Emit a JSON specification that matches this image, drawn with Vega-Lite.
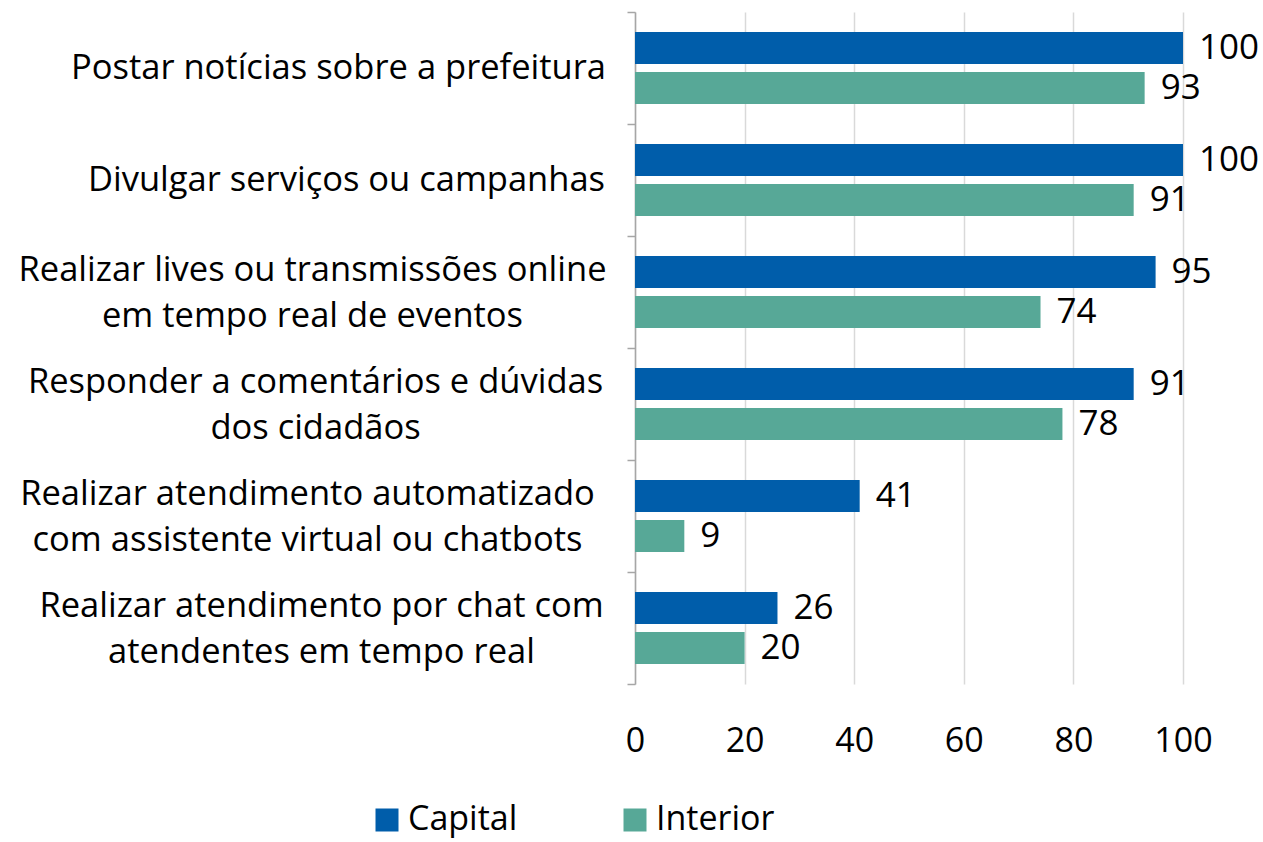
{
  "$schema": "https://vega.github.io/schema/vega-lite/v6.json",
  "autosize": "none",
  "width": 548,
  "height": 672,
  "padding": {"left": 635, "top": 12, "right": 80, "bottom": 158},
  "background": "white",
  "config": {
    "view": {"stroke": null},
    "font": "Open Sans",
    "text": {"font": "Open Sans"}
  },
  "data": {
    "values": [
      {"task": "Postar notícias sobre a prefeitura", "group": "Capital", "value": 100},
      {"task": "Postar notícias sobre a prefeitura", "group": "Interior", "value": 93},
      {"task": "Divulgar serviços ou campanhas", "group": "Capital", "value": 100},
      {"task": "Divulgar serviços ou campanhas", "group": "Interior", "value": 91},
      {"task": "Realizar lives ou transmissões online\nem tempo real de eventos", "group": "Capital", "value": 95},
      {"task": "Realizar lives ou transmissões online\nem tempo real de eventos", "group": "Interior", "value": 74},
      {"task": "Responder a comentários e dúvidas\ndos cidadãos", "group": "Capital", "value": 91},
      {"task": "Responder a comentários e dúvidas\ndos cidadãos", "group": "Interior", "value": 78},
      {"task": "Realizar atendimento automatizado\ncom assistente virtual ou chatbots", "group": "Capital", "value": 41},
      {"task": "Realizar atendimento automatizado\ncom assistente virtual ou chatbots", "group": "Interior", "value": 9},
      {"task": "Realizar atendimento por chat com\natendentes em tempo real", "group": "Capital", "value": 26},
      {"task": "Realizar atendimento por chat com\natendentes em tempo real", "group": "Interior", "value": 20}
    ]
  },
  "encoding": {
    "y": {
      "field": "task",
      "type": "nominal",
      "sort": null,
      "scale": {"paddingInner": 0, "paddingOuter": 0},
      "axis": {
        "title": null,
        "domainColor": "#a6a6a6",
        "domainWidth": 1.5,
        "tickColor": "#a6a6a6",
        "tickWidth": 1.5,
        "tickSize": 8,
        "tickBand": "extent",
        "labelFont": "Open Sans",
        "labelFontSize": 34.5,
        "labelColor": "#000000",
        "labelAlign": "center",
        "labelBaseline": "middle",
        "labelLimit": 700,
        "labelLineHeight": 46,
        "labelExpr": "split(datum.label, '\\n')",
        "labelPadding": {"expr": "[289,281,315,312,320,306][round(datum.index*5)]"},
        "labelOffset": {"expr": "[0,0,-22,-22,-22,-22][round(datum.index*5)]"}
      }
    },
    "yOffset": {
      "field": "group",
      "type": "nominal",
      "sort": ["Capital", "Interior"],
      "scale": {"paddingInner": 0.2, "paddingOuter": 0.5}
    },
    "x": {
      "field": "value",
      "type": "quantitative",
      "scale": {"domain": [0, 100]},
      "axis": {
        "title": null,
        "values": [0, 20, 40, 60, 80, 100],
        "domain": false,
        "ticks": false,
        "grid": true,
        "gridColor": "#d9d9d9",
        "gridWidth": 1.5,
        "labelFont": "Open Sans",
        "labelFontSize": 34,
        "labelColor": "#000000",
        "labelPadding": 40,
        "labelFlush": false
      }
    }
  },
  "layer": [
    {
      "mark": {"type": "bar"},
      "encoding": {
        "color": {
          "field": "group",
          "type": "nominal",
          "sort": ["Capital", "Interior"],
          "scale": {"domain": ["Capital", "Interior"], "range": ["#005DAA", "#57A897"]},
          "legend": {
            "title": null,
            "orient": "none",
            "direction": "horizontal",
            "legendX": -265,
            "legendY": 791,
            "symbolType": "square",
            "symbolSize": 529,
            "symbolStrokeWidth": 0,
            "labelFont": "Open Sans",
            "labelFontSize": 34,
            "labelColor": "#000000",
            "labelOffset": 4,
            "columnPadding": 100,
            "padding": 0
          }
        }
      }
    },
    {
      "mark": {"type": "text", "align": "left", "baseline": "middle", "dx": 16, "fontSize": 35, "font": "Open Sans", "color": "#000000"},
      "encoding": {
        "text": {"field": "value", "type": "quantitative"}
      }
    }
  ]
}
